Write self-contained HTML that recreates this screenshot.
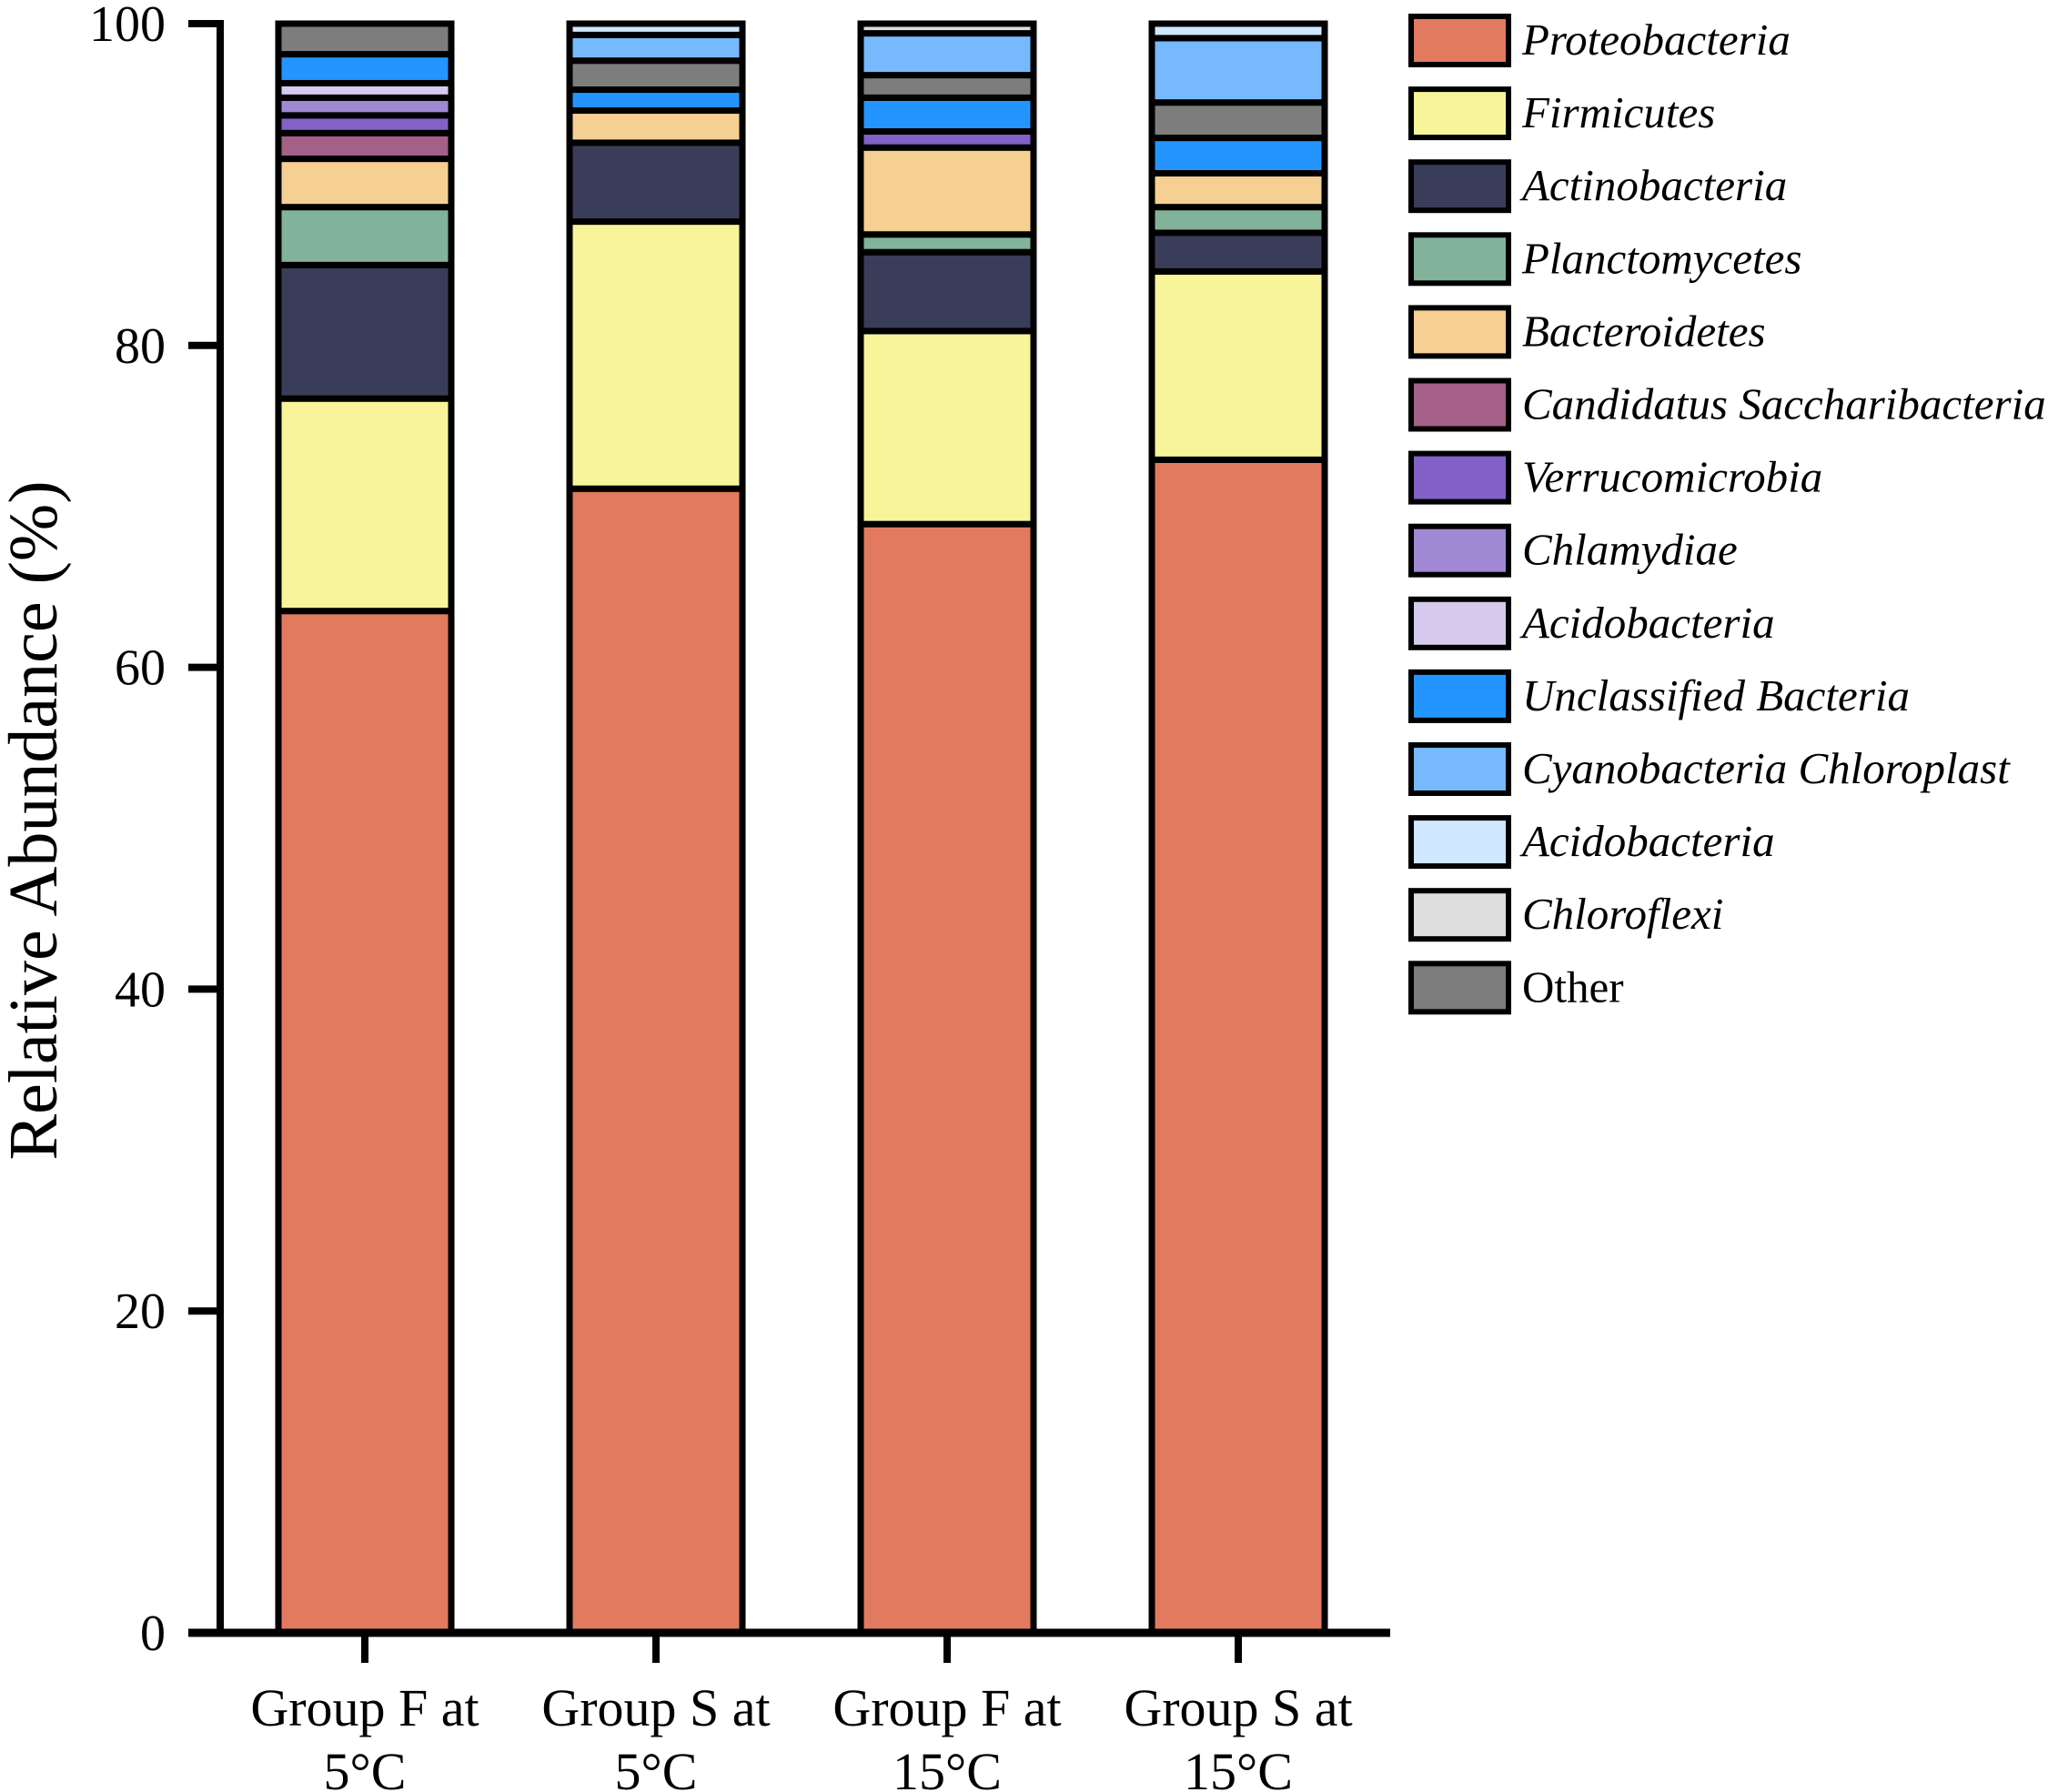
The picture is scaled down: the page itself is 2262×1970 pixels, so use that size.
<!DOCTYPE html>
<html><head><meta charset="utf-8"><style>
html,body{margin:0;padding:0;background:#fff}
svg{display:block}
text{font-family:"Liberation Serif",serif;fill:#000}
</style></head><body>
<svg id="chart" width="2262" height="1970" viewBox="0 0 2262 1970" xmlns="http://www.w3.org/2000/svg"></svg>
<script>
const categories = ["Group F at|5°C","Group S at|5°C","Group F at|15°C","Group S at|15°C"];
const seriesNames = ["Proteobacteria","Firmicutes","Actinobacteria","Planctomycetes","Bacteroidetes","Candidatus Saccharibacteria","Verrucomicrobia","Chlamydiae","Acidobacteria","Unclassified Bacteria","Cyanobacteria Chloroplast","Acidobacteria","Chloroflexi","Other"];
const seriesColors = ["#E27A60","#F8F49A","#3A3D5A","#82B39A","#F6D092","#A46087","#8262C6","#A088D4","#D6CAEE","#2495FF","#76BAFD","#D0E8FF","#DEDEDE","#7D7D7D"];
const proteobacteria = [63.5,71.1,68.9,72.9];
const firmicutes = [13.2,16.6,12.0,11.7];
const actinobacteria = [8.3,4.9,4.9,2.4];
const planctomycetes = [3.6,0,1.1,1.6];
const bacteroidetes = [3.0,2.0,5.4,2.1];
const candidatus = [1.6,0,0,0];
const verrucomicrobia = [1.1,0,1.0,0];
const chlamydiae = [1.1,0,0,0];
const acidobacteria = [0.9,0,0,0];
const unclassified = [1.8,1.3,2.1,2.2];
const cyanobacteria = [0,1.6,2.6,4.0];
const acidobacteria2 = [0,0.7,0,0.9];
const chloroflexi = [0,0,0.6,0];
const other = [1.9,1.8,1.4,2.2];
const seriesValues = [proteobacteria,firmicutes,actinobacteria,planctomycetes,bacteroidetes,candidatus,verrucomicrobia,chlamydiae,acidobacteria,unclassified,cyanobacteria,acidobacteria2,chloroflexi,other];
const stackOrder = [0,1,2,3,4,5,6,7,8,9,13,10,11,12];
const yTicks = [0,20,40,60,80,100];

const NS="http://www.w3.org/2000/svg";
const svg=document.getElementById('chart');
function mk(tag,attrs,parent){const e=document.createElementNS(NS,tag);for(const k in attrs)e.setAttribute(k,attrs[k]);(parent||svg).appendChild(e);return e;}
const y0=1795, y100=26, axisX=242;
function yScale(v){return y0-(v/100)*(y0-y100);}
function xScale(i){return 401+i*320;}
const barW=190;

categories.forEach((c,i)=>{
  const g=mk('g',{});
  
  
  let acc=0;
  stackOrder.forEach(si=>{
    const v=seriesValues[si][i];
    if(v<=0)return;
    const yt=yScale(acc+v), yb=yScale(acc);
    const r=mk('rect',{x:xScale(i)-barW/2,y:yt,width:barW,height:yb-yt,fill:seriesColors[si],stroke:'#000','stroke-width':7},g);
    
    
    acc+=v;
  });
});

const ya=mk('line',{x1:axisX,y1:y100-4,x2:axisX,y2:y0+4,stroke:'#000','stroke-width':8});


const xa=mk('line',{x1:207,y1:y0,x2:1528,y2:y0,stroke:'#000','stroke-width':9});


yTicks.forEach(t=>{
  const y=yScale(t);
  const l=mk('line',{x1:207,y1:y,x2:axisX,y2:y,stroke:'#000','stroke-width':8});
  
  
  const tx=mk('text',{x:182,y:y+19,'text-anchor':'end','font-size':56});
  tx.textContent=t;
  
  
});
categories.forEach((c,i)=>{
  const x=xScale(i);
  const l=mk('line',{x1:x,y1:y0,x2:x,y2:1828,stroke:'#000','stroke-width':8});
  
  
  const parts=c.split('|');
  parts.forEach((p,j)=>{
    const t=mk('text',{x:x,y:1897+j*70,'text-anchor':'middle','font-size':58});
    t.textContent=p;
    
    
  });
});
const yt=mk('text',{x:0,y:0,transform:'translate(62,902) rotate(-90)','text-anchor':'middle','font-size':76});
yt.textContent='Relative Abundance (%)';



seriesNames.forEach((n,i)=>{
  const y=18+i*80.1;
  const g=mk('g',{});
  
  
  mk('rect',{x:1551,y:y,width:107,height:53,fill:seriesColors[i],stroke:'#000','stroke-width':6},g);
  const t=mk('text',{x:1673,y:y+42,'font-size':49,'font-style':n==='Other'?'normal':'italic'},g);
  t.textContent=n;
});
</script>
</body></html>
